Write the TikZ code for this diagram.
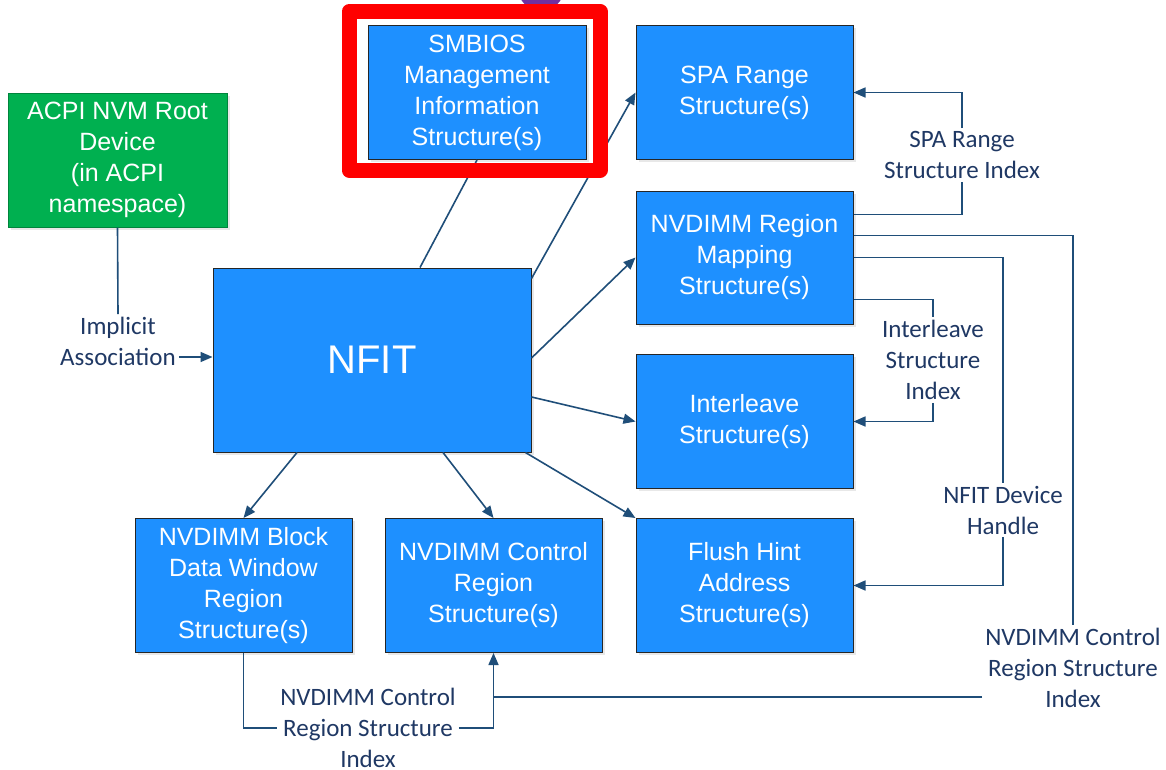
\documentclass[tikz,border=0pt]{standalone}
\usepackage{fontspec}
\setmainfont{Liberation Sans}
\newfontfamily\lblfont{Carlito}
\usetikzlibrary{arrows.meta,shadows}
\definecolor{boxblue}{HTML}{1E90FF}
\definecolor{acpigreen}{HTML}{00B050}
\definecolor{linecol}{HTML}{1F4E79}
\definecolor{txtnavy}{HTML}{1F3864}
\definecolor{hlred}{HTML}{FF0000}
\definecolor{blob}{HTML}{7030A0}
\begin{document}
\begin{tikzpicture}[x=1pt,y=-1pt,
  box/.style={draw=black!85, line width=1pt, fill=boxblue, text=white, align=center,
    minimum width=217pt, minimum height=134pt, inner sep=2pt,
    font=\fontsize{25}{31}\selectfont,
    drop shadow={shadow xshift=2.5pt, shadow yshift=-2.5pt, opacity=0.18}},
  lbl/.style={text=txtnavy, align=center, inner sep=3pt, font=\lblfont\fontsize{25}{31}\selectfont},
  conn/.style={draw=linecol, line width=1.6pt},
  arr/.style={conn, -{Triangle[length=12pt,width=10pt]}},
]
\fill[white] (0,0) rectangle (1166,769);
\useasboundingbox (0,0) rectangle (1166,769);

% purple blob at top (clipped)
\begin{scope}
  \clip (0,0) rectangle (1166,769);
  \fill[blob] (541,-12) circle (23pt);
\end{scope}

% boxes
\node[box, minimum width=218pt] (smbios) at (477,92.5) {SMBIOS\\Management\\Information\\Structure(s)};
\node[box] (spa) at (744.5,92.5) {SPA Range\\Structure(s)};
\node[box, minimum height=133pt] (rmap) at (744.5,257.5) {NVDIMM Region\\Mapping\\Structure(s)};
\node[box] (inter) at (744.5,421.5) {Interleave\\Structure(s)};
\node[box] (flush) at (744.5,585.5) {Flush Hint\\Address\\Structure(s)};
\node[box] (ctrl) at (493.5,585.5) {NVDIMM Control\\Region\\Structure(s)};
\node[box] (block) at (243.5,585.5) {NVDIMM Block\\Data Window\\Region\\Structure(s)};
\node[box, fill=acpigreen, draw=acpigreen!75!black, minimum width=219pt] (acpi) at (117.5,160) {ACPI NVM Root\\Device\\(in ACPI\\namespace)};
\node[box, minimum width=318pt, minimum height=184pt, font=\fontsize{40}{48}\selectfont] (nfit) at (372,360) {NFIT};

% connectors from NFIT
\draw[conn] ([xshift=48pt]nfit.north) -- (smbios.south);
\draw[arr] ([yshift=-11pt]nfit.north east) -- (spa.west);
\draw[arr] ([yshift=2pt]nfit.east) -- (rmap.west);
\draw[arr] ([yshift=-37pt]nfit.east) -- (inter.west);
\draw[arr] ([xshift=-6pt]nfit.south east) -- (flush.north west);
\draw[arr] ([xshift=71pt]nfit.south) -- (ctrl.north);
\draw[arr] ([xshift=-75pt]nfit.south) -- (block.north);

% implicit association
\node[lbl] (impl) at (118,341.5) {Implicit\\Association};
\draw[conn] (acpi.south) -- (impl.north);
\coordinate (ia) at ([yshift=-15.5pt]impl.east);
\draw[arr] (ia) -- (ia -| nfit.west);

% SPA range structure index
\node[lbl] (spaidx) at (962,155) {SPA Range\\Structure Index};
\draw[conn] ([yshift=-24pt]rmap.north east) -| (spaidx.south);
\draw[arr] (spaidx.north) |- (spa.east);

% interleave structure index
\node[lbl] (intidx) at (933,360) {Interleave\\Structure\\Index};
\draw[conn] ([yshift=25pt]rmap.south east) -| (intidx.north);
\draw[arr] (intidx.south) |- (inter.east);

% NFIT device handle
\node[lbl] (devh) at (1003,510) {NFIT Device\\Handle};
\draw[conn] (rmap.east) -| (devh.north);
\draw[arr] (devh.south) |- (flush.east);

% NVDIMM control region structure index (right)
\node[lbl] (cidxR) at (1073,668) {NVDIMM Control\\Region Structure\\Index};
\draw[conn] ([yshift=-45pt]rmap.north east) -| (cidxR.north);
\coordinate (cjR) at ([yshift=-29pt]cidxR.west);
\draw[arr] (cjR) -| (ctrl.south);
\coordinate (cj) at (cjR -| ctrl.south);

% NVDIMM control region structure index (bottom)
\node[lbl] (cidxB) at (368,728) {NVDIMM Control\\Region Structure\\Index};
\draw[conn] (block.south) |- (cidxB.west);
\draw[conn] (cidxB.east) -| (cj);

% red highlight around SMBIOS
\draw[hlred, line width=15pt, line join=round] (349,11.5) rectangle (600,170);
\end{tikzpicture}
\end{document}
